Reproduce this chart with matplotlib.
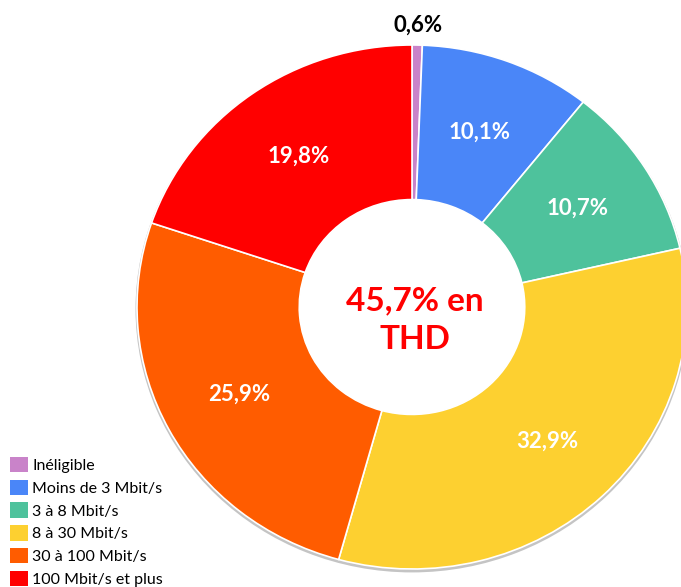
import matplotlib.pyplot as plt
import matplotlib
from matplotlib.patches import Patch, Annulus

matplotlib.rcParams["font.family"] = ["Lato", "DejaVu Sans"]

# --- données ---
categories = ["Inéligible", "Moins de 3 Mbit/s", "3 à 8 Mbit/s",
              "8 à 30 Mbit/s", "30 à 100 Mbit/s", "100 Mbit/s et plus"]
shares = [0.6, 10.1, 10.7, 32.9, 25.9, 19.8]
colors = ["#C983C9", "#4A86F8", "#4EC29C", "#FDD030", "#FF5C00", "#FF0000"]
center_text = "45,7% en\nTHD"

fig = plt.figure(figsize=(6.81, 5.87), dpi=100)
ax = fig.add_axes([0, 0, 1, 1])

# le disque est un peu plus large que haut dans l'original
sy = 275 / 262
cx, cy, R = 412, 280 * sy, 275

# liseré gris (ombre) autour de l'anneau
shadow = Annulus((cx, cy - 2 * sy), R + 1.5, 6, facecolor="#C4C4C4",
                 edgecolor="none", zorder=0)
ax.add_patch(shadow)

wedges, texts, autotexts = ax.pie(
    shares, colors=colors, startangle=90, counterclock=False,
    center=(cx, cy), radius=R, frame=True,
    autopct=lambda p: f"{p:.1f}%".replace(".", ","), pctdistance=0.71,
    wedgeprops=dict(width=R * 0.59, edgecolor="white", linewidth=1.2),
    textprops=dict(color="white", fontsize=16, fontweight="bold"))
ax.set_aspect("auto")
ax.set_xlim(0, 681)
ax.set_ylim(0, 587 * sy)
ax.axis("off")

# petite part : étiquette à l'extérieur en noir
small = autotexts[0]
small.set_color("black")
small.set_position((418, (587 - 25) * sy))

ax.text(cx + 3, (587 - 320) * sy, center_text, color="#FF0000", fontsize=24,
        fontweight="bold", ha="center", va="center", linespacing=1.4)

handles = [Patch(facecolor=c, edgecolor="none") for c in colors]
ax.legend(handles, categories, loc="lower left",
          bbox_to_anchor=(10 / 681, 0.0),
          frameon=False, fontsize=11.5, handlelength=1.1, handleheight=1.1,
          handletextpad=0.3, labelspacing=0.42, borderpad=0, borderaxespad=0)

fig.savefig("out.png", dpi=100)
